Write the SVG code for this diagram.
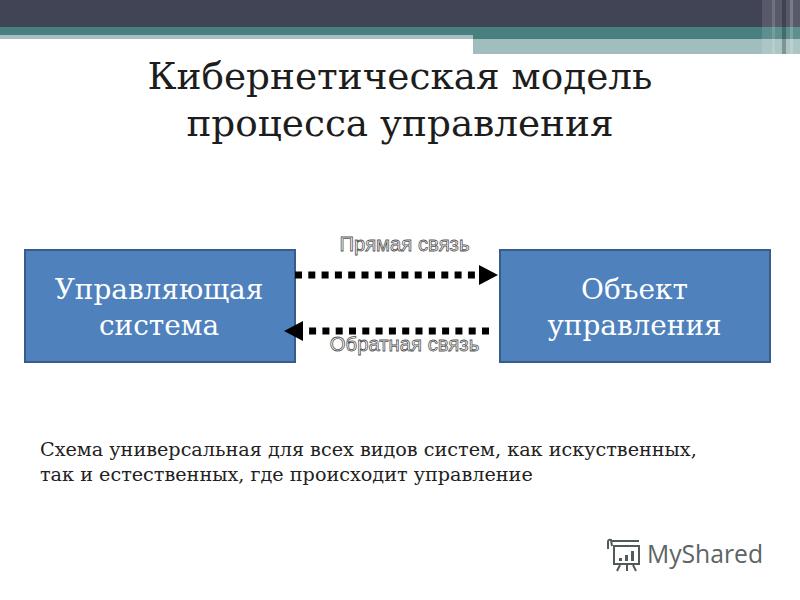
<svg xmlns="http://www.w3.org/2000/svg" width="800" height="600" viewBox="0 0 800 600">
<style>
.t{font-family:"DejaVu Serif",serif;text-anchor:middle}
.title{font-size:37.400px;fill:#1d1d1d}
.node{fill:#4f81bd;stroke:#385d8a;stroke-width:2}
.nt{font-size:27.900px;fill:#fff}
.lab{font-family:"Liberation Sans",sans-serif;font-size:20.300px;text-anchor:middle;fill:#fff;stroke:#555;stroke-width:.8}
.body{font-family:"DejaVu Serif",serif;font-size:19.200px;fill:#222}
.dot{fill:none;stroke:#000;stroke-width:7;stroke-dasharray:7 6.3}
.logo{fill:none;stroke:#4f5a5a;stroke-width:2}
</style>
<defs>
<marker id="a" markerUnits="userSpaceOnUse" markerWidth="20" markerHeight="20" refX="0" refY="10" orient="auto"><path d="M0 0L19 10L0 20Z" fill="#000"/></marker>
</defs>
<rect width="800" height="600" fill="#fff"/>
<g id="banner">
<rect width="800" height="27" fill="#414455"/>
<rect y="27" width="800" height="9" fill="#47807f"/>
<rect y="35" width="473" height="4" fill="#a7bfc2"/>
<rect x="473" y="39" width="327" height="15" fill="#a1bdbd"/>
<rect x="473" y="35" width="327" height="4" fill="#47807f"/>
<rect x="762" width="38" height="54" fill="#fff" fill-opacity=".12"/>
<rect x="772" width="3" height="54" fill="#fff" fill-opacity=".15"/>
<rect x="782" width="4" height="54" fill="#000" fill-opacity=".25"/>
<rect x="790" width="3" height="54" fill="#fff" fill-opacity=".2"/>
</g>
<g id="title">
<text class="t title" x="400" y="89">Кибернетическая модель</text>
<text class="t title" x="400" y="136">процесса управления</text>
</g>
<g id="node-control">
<rect class="node" x="25" y="250" width="270" height="112"/>
<text class="t nt" x="159" y="299">Управляющая</text>
<text class="t nt" x="159" y="335">система</text>
</g>
<g id="node-object">
<rect class="node" x="500" y="250" width="270" height="112"/>
<text class="t nt" x="634.500" y="299">Объект</text>
<text class="t nt" x="634.500" y="335">управления</text>
</g>
<g id="connectors">
<path class="dot" d="M295 275H479" marker-end="url(#a)"/>
<path class="dot" d="M489 331H303" marker-end="url(#a)"/>
</g>
<g id="labels" opacity=".99">
<text class="lab" x="404.500" y="251">Прямая связь</text>
<text class="lab" x="404.500" y="351">Обратная связь</text>
</g>
<g id="caption">
<text class="body" x="40" y="456">Схема универсальная для всех видов систем, как искуственных,</text>
<text class="body" x="40" y="481">так и естественных, где происходит управление</text>
</g>
<g id="watermark">
<path class="logo" d="M611 541H639M608 549V542Q608 539 611 540L612 546M614 546H639V564H614Z"/>
<path d="M619 561v-3h3v3zM625 561v-6h3v6zM631 561v-10h3v10z" fill="#4f5a5a"/>
<path class="logo" d="M620 565L617 571M627 565V571M633 565L636 571"/>
<text x="647" y="563" font-family="Open Sans,sans-serif" font-size="24.700" fill="#5c6464">MyShared</text>
</g>
</svg>
